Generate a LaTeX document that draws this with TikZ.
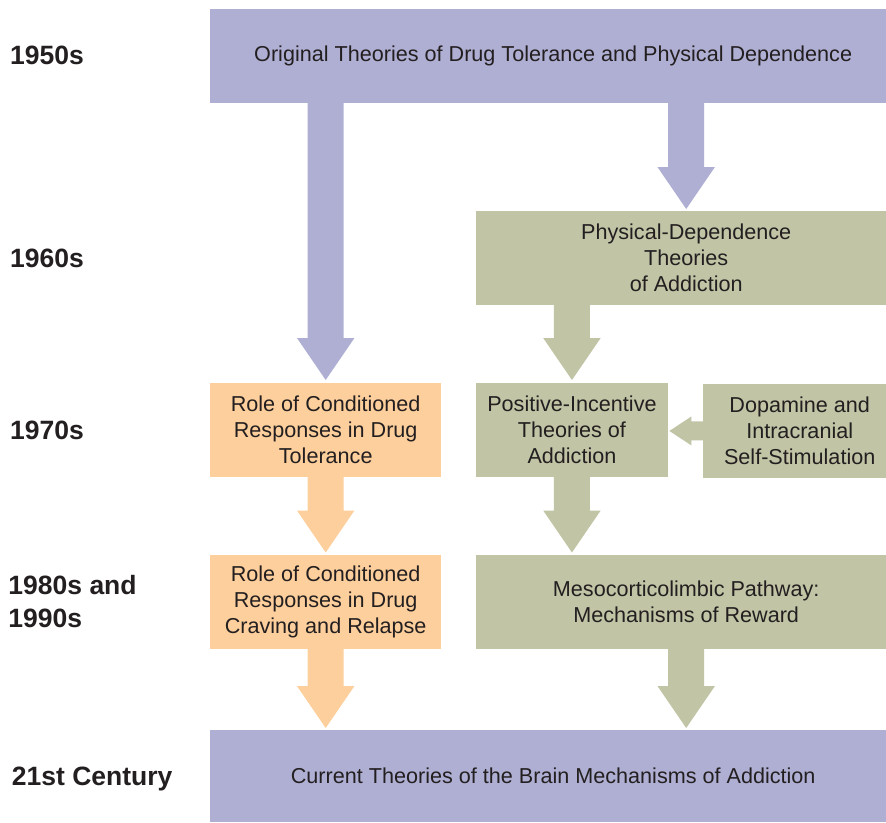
\documentclass[tikz,border=0pt]{standalone}
\usepackage{fontspec}
\setmainfont{Liberation Sans}
\usetikzlibrary{calc}
\definecolor{purp}{RGB}{175,175,211}
\definecolor{grn}{RGB}{193,196,165}
\definecolor{org}{RGB}{253,207,156}
\definecolor{txt}{RGB}{35,31,32}
\newcommand\blockdown[3]{%
  \fill[#3] let \p1=(#1), \p2=(#2) in
   (\x1-18pt,\y1+0.5pt) -- (\x1-18pt,\y2+42pt) -- (\x1-28.75pt,\y2+42pt) -- (\x1,\y2)
   -- (\x1+28.75pt,\y2+42pt) -- (\x1+18pt,\y2+42pt) -- (\x1+18pt,\y1+0.5pt) -- cycle;}
\begin{document}
\begin{tikzpicture}[x=1pt,y=-1pt,
  box/.style={anchor=north west, inner sep=0pt, align=center, text=txt,
    font=\fontsize{21.6}{26}\selectfont},
  yearlbl/.style={anchor=base west, inner sep=0pt, align=left, text=txt,
    font=\fontsize{26.5}{33}\selectfont\bfseries},
]
\useasboundingbox (0,0) rectangle (886,822);
\clip (0,0) rectangle (886,822);
% boxes
\node[box, fill=purp, minimum width=686pt, minimum height=94pt] (top) at (210,9)
  {Original Theories of Drug Tolerance and Physical Dependence};
\node[box, fill=grn, minimum width=420pt, minimum height=93.5pt] (pd) at (476,211)
  {Physical-Dependence\\Theories\\of Addiction};
\node[box, fill=org, minimum width=231pt, minimum height=94pt] (o1) at (210,383)
  {Role of Conditioned\\Responses in Drug\\Tolerance};
\node[box, fill=grn, minimum width=191.5pt, minimum height=94pt] (pi) at (476,383)
  {Positive-Incentive\\Theories of\\Addiction};
\node[box, fill=grn, minimum width=193pt, minimum height=93.5pt] (dop) at (703,384)
  {Dopamine and\\Intracranial\\Self-Stimulation};
\node[box, fill=org, minimum width=231pt, minimum height=93.5pt] (o2) at (210,555)
  {Role of Conditioned\\Responses in Drug\\Craving and Relapse};
\node[box, fill=grn, minimum width=420pt, minimum height=93.5pt] (meso) at (476,555)
  {Mesocorticolimbic Pathway:\\Mechanisms of Reward};
\node[box, fill=purp, minimum width=686pt, minimum height=92pt] (bot) at (210,730)
  {Current Theories of the Brain Mechanisms of Addiction};
% year labels
\node[yearlbl] (y50) at (10,64) {1950s};
\node[yearlbl] (y60) at (10,267.3) {1960s};
\node[yearlbl] (y70) at (10,439.3) {1970s};
\node[yearlbl] (y80) at (8.3,627) {1980s and\\1990s};
\node[yearlbl] (y21) at (11.7,785) {21st Century};
% block arrows
\blockdown{top.south -| o1.north}{$(o1.north)+(0,-3)$}{purp}
\blockdown{top.south -| pd.north}{$(pd.north)+(0,-2)$}{purp}
\blockdown{pd.south -| pi.north}{$(pi.north)+(0,-3)$}{grn}
\blockdown{o1.south}{$(o2.north)+(0,-2.5)$}{org}
\blockdown{pi.south}{$(meso.north -| pi.south)+(0,-2.5)$}{grn}
\blockdown{o2.south}{$(bot.north -| o2.south)+(0,-2)$}{org}
\blockdown{meso.south}{$(bot.north -| meso.south)+(0,-2)$}{grn}
\fill[grn] let \p1=(dop.west), \p2=($(pi.east |- dop.west)+(1.5,0)$) in
  (\x1+0.5pt,\y1+9.5pt) -- (\x2+22pt,\y1+9.5pt) -- (\x2+22pt,\y1+14.5pt) -- (\x2,\y1)
  -- (\x2+22pt,\y1-14.5pt) -- (\x2+22pt,\y1-9.5pt) -- (\x1+0.5pt,\y1-9.5pt) -- cycle;
\end{tikzpicture}
\end{document}
